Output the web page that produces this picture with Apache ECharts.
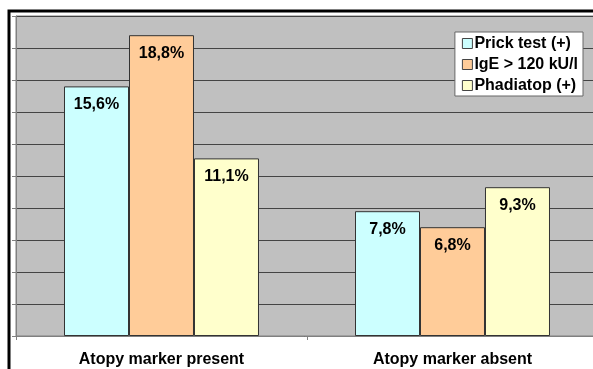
<!DOCTYPE html>
<html><head><meta charset="utf-8">
<script src="https://cdn.jsdelivr.net/npm/echarts@6/dist/echarts.min.js"></script>
<style>html,body{margin:0;padding:0;background:#fff}#c{width:593px;height:369px}</style>
</head><body><div id="c"></div>
<script>
const categories = ['Atopy marker present', 'Atopy marker absent'];
const seriesNames = ['Prick test (+)', 'IgE > 120 kU/l', 'Phadiatop (+)'];
const prickTest = [15.6, 7.8];
const ige = [18.8, 6.8];
const phadiatop = [11.1, 9.3];
const colors = ['#CCFFFF', '#FFCC99', '#FFFFCC'];
const values = [prickTest, ige, phadiatop];

const chart = echarts.init(document.getElementById('c'));
const fmt = p => p.value.toFixed(1).replace('.', ',') + '%';
chart.setOption({
  animation: false,
  backgroundColor: '#fff',
  graphic: [{
    type: 'rect', z: 100, silent: true,
    shape: { x: 9, y: 11, width: 700, height: 500 },
    style: { fill: 'none', stroke: '#000', lineWidth: 3 }
  }],
  grid: { left: 16, width: 582, top: 16, height: 320, outerBoundsMode: 'none', containLabel: false,
    show: true, backgroundColor: '#C0C0C0', borderColor: '#808080', borderWidth: 1 },
  legend: {
    right: 10, top: 32, orient: 'vertical', itemGap: 4,
    itemWidth: 10, itemHeight: 10, icon: 'rect',
    backgroundColor: '#fff', borderColor: '#666', borderWidth: 1,
    padding: [3, 5, 2, 7],
    textStyle: { fontFamily: 'Arial, Liberation Sans', fontWeight: 'bold', fontSize: 16, lineHeight: 17, color: '#000', padding: [0, 0, 0, -3] },
    data: seriesNames.map(n => ({ name: n, itemStyle: { borderColor: '#444', borderWidth: 1 } }))
  },
  xAxis: {
    type: 'category', data: categories,
    axisLine: { lineStyle: { color: '#808080', width: 1 } },
    axisTick: { show: true, length: 4, lineStyle: { color: '#808080' } },
    axisLabel: { fontFamily: 'Arial, Liberation Sans', fontWeight: 'bold', fontSize: 16, color: '#000', margin: 16 },
    splitLine: { show: false }
  },
  yAxis: {
    type: 'value', min: 0, max: 20, interval: 2,
    axisLine: { show: true, lineStyle: { color: '#808080' } },
    axisTick: { show: true, length: 4, inside: false, lineStyle: { color: '#808080' } },
    axisLabel: { show: false },
    splitLine: { show: true, lineStyle: { color: '#444', width: 1 } }
  },
  series: values.map((v, i) => ({
    name: seriesNames[i], type: 'bar', data: v,
    barGap: '0%', barCategoryGap: '33%',
    itemStyle: { color: colors[i], borderColor: '#333', borderWidth: 1 },
    label: { show: true, position: 'insideTop', distance: 10, formatter: fmt,
      fontFamily: 'Arial, Liberation Sans', fontWeight: 'bold', fontSize: 16, color: '#000' }
  }))
});
</script></body></html>
